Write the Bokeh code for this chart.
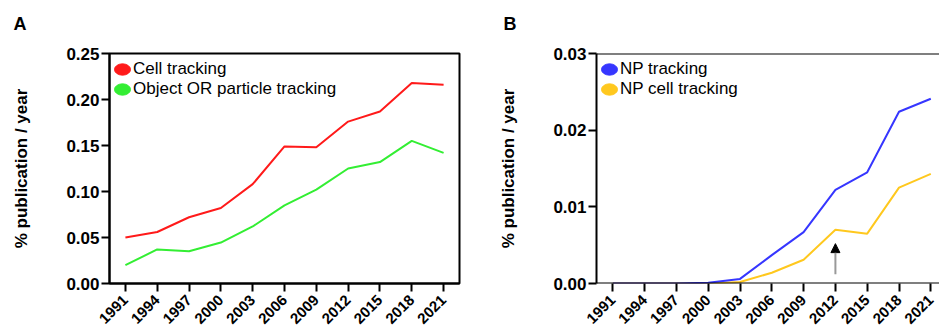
import math
from bokeh.plotting import figure
from bokeh.models import (Range1d, FixedTicker, NumeralTickFormatter, Legend, LegendItem,
                          Arrow, NormalHead, Span)
from bokeh.layouts import row
from bokeh.embed import file_html
from bokeh.resources import INLINE

# ---- data ----
years = [1991, 1994, 1997, 2000, 2003, 2006, 2009, 2012, 2015, 2018, 2021]
cell_tracking = [0.050, 0.056, 0.072, 0.082, 0.108, 0.149, 0.148, 0.176, 0.187, 0.218, 0.216]
object_particle_tracking = [0.020, 0.037, 0.035, 0.0445, 0.062, 0.085, 0.102, 0.125, 0.132, 0.155, 0.142]
np_tracking = [0.0, 0.0, 0.0, 0.0001, 0.0006, 0.0037, 0.0067, 0.0122, 0.0145, 0.0224, 0.0241]
np_cell_tracking = [0.0, 0.0, 0.0, 0.0, 0.0002, 0.0014, 0.0031, 0.0070, 0.0065, 0.0125, 0.0143]
yticks_a = [0.0, 0.05, 0.10, 0.15, 0.20, 0.25]
yticks_b = [0.0, 0.01, 0.02, 0.03]
arrow_year = 2012
arrow_from = 0.0012
arrow_to = 0.0052

FONT = "Liberation Sans"
RED, GREEN, BLUE, YELLOW = "#ff1a1a", "#33ee33", "#3636ff", "#ffc81e"
NAN = float("nan")


def make_panel(letter, width, ybounds, yticks, xrange, min_left, min_right, min_top,
               min_bottom, title_offset, title_standoff, series, legend_order,
               legend_vy, outline):
    p = figure(width=width, height=333, output_backend="svg", toolbar_location=None,
               x_range=Range1d(*xrange), y_range=Range1d(*ybounds),
               min_border_left=min_left, min_border_right=min_right,
               min_border_top=min_top, min_border_bottom=min_bottom)
    # panel letter; the empty second line lifts it towards the top of the page
    p.title.text = letter + "\n"
    p.title.text_font = FONT
    p.title.text_font_size = "18px"
    p.title.text_font_style = "bold"
    p.title.text_color = "black"
    p.title.align = "left"
    p.title.vertical_align = "bottom"
    p.title.offset = title_offset
    p.title.standoff = title_standoff

    p.xgrid.visible = False
    p.ygrid.visible = False

    for ax in (p.xaxis[0], p.yaxis[0]):
        ax.axis_line_width = 2
        ax.axis_line_color = "black"
        ax.major_tick_line_width = 2
        ax.major_tick_line_color = "black"
        ax.major_tick_in = 0
        ax.major_tick_out = 8
        ax.minor_tick_line_color = None
        ax.major_label_text_font = FONT
        ax.major_label_text_font_style = "bold"
        ax.major_label_text_color = "black"

    if outline:
        p.outline_line_color = "black"
        p.outline_line_width = 2
    else:
        p.outline_line_color = None
        p.add_layout(Span(location=ybounds[1], dimension="width",
                          line_color="black", line_width=2))
        # baseline drawn beneath the data lines so the flat series stays visible
        p.xaxis.axis_line_color = None
        p.add_layout(Span(location=ybounds[0], dimension="width", level="glyph",
                          line_color="black", line_width=2))

    p.xaxis.ticker = FixedTicker(ticks=years)
    p.xaxis.major_label_orientation = math.pi / 4
    p.xaxis.major_label_text_font_size = "15px"
    p.xaxis.major_label_standoff = 6

    p.yaxis.ticker = FixedTicker(ticks=yticks)
    p.yaxis.formatter = NumeralTickFormatter(format="0.00")
    p.yaxis.major_label_text_font_size = "17px"
    p.yaxis.major_label_standoff = 2
    p.yaxis.axis_label = "% publication / year"
    p.yaxis.axis_label_text_font = FONT
    p.yaxis.axis_label_text_font_size = "17px"
    p.yaxis.axis_label_text_font_style = "bold"
    p.yaxis.axis_label_text_color = "black"
    p.yaxis.axis_label_standoff = 32

    blobs = {}
    for label, vals, color in series:
        p.line(years, vals, line_color=color, line_width=2)
    for label, vals, color in series:
        # legend-only oval (no position on the plot)
        blobs[label] = p.ellipse(x=[NAN], y=[NAN], width=17, height=12,
                                 width_units="screen", height_units="screen",
                                 fill_color=color, line_color=color)
    items = [LegendItem(label=lab, renderers=[blobs[lab]]) for lab in legend_order]
    legend = Legend(items=items, location=(2, legend_vy), padding=0, margin=0,
                    spacing=0, glyph_width=22, glyph_height=20, label_height=20,
                    label_standoff=0, label_text_font=FONT, label_text_font_size="17px",
                    label_text_color="black",
                    border_line_color=None, background_fill_alpha=0)
    p.add_layout(legend)
    return p


pa = make_panel("A", 490, (0, 0.25), yticks_a, (1989.5, 2022.5), 109, 31, 53, 48, -96, 0,
                [("Cell tracking", cell_tracking, RED),
                 ("Object OR particle tracking", object_particle_tracking, GREEN)],
                ["Cell tracking", "Object OR particle tracking"],
                184, True)

pb = make_panel("B", 449, (0, 0.03), yticks_b, (1989.46, 2021.82), 106, 0, 50, 50, -93, 0,
                [("NP cell tracking", np_cell_tracking, YELLOW),
                 ("NP tracking", np_tracking, BLUE)],
                ["NP tracking", "NP cell tracking"],
                184, False)

pb.add_layout(Arrow(x_start=arrow_year, y_start=arrow_from, x_end=arrow_year, y_end=arrow_to,
                    line_color="#999999", line_width=2,
                    end=NormalHead(size=9, fill_color="black", line_color="black", line_width=1)))

layout = row(pa, pb)
open("out.html", "w").write(file_html(layout, INLINE))
